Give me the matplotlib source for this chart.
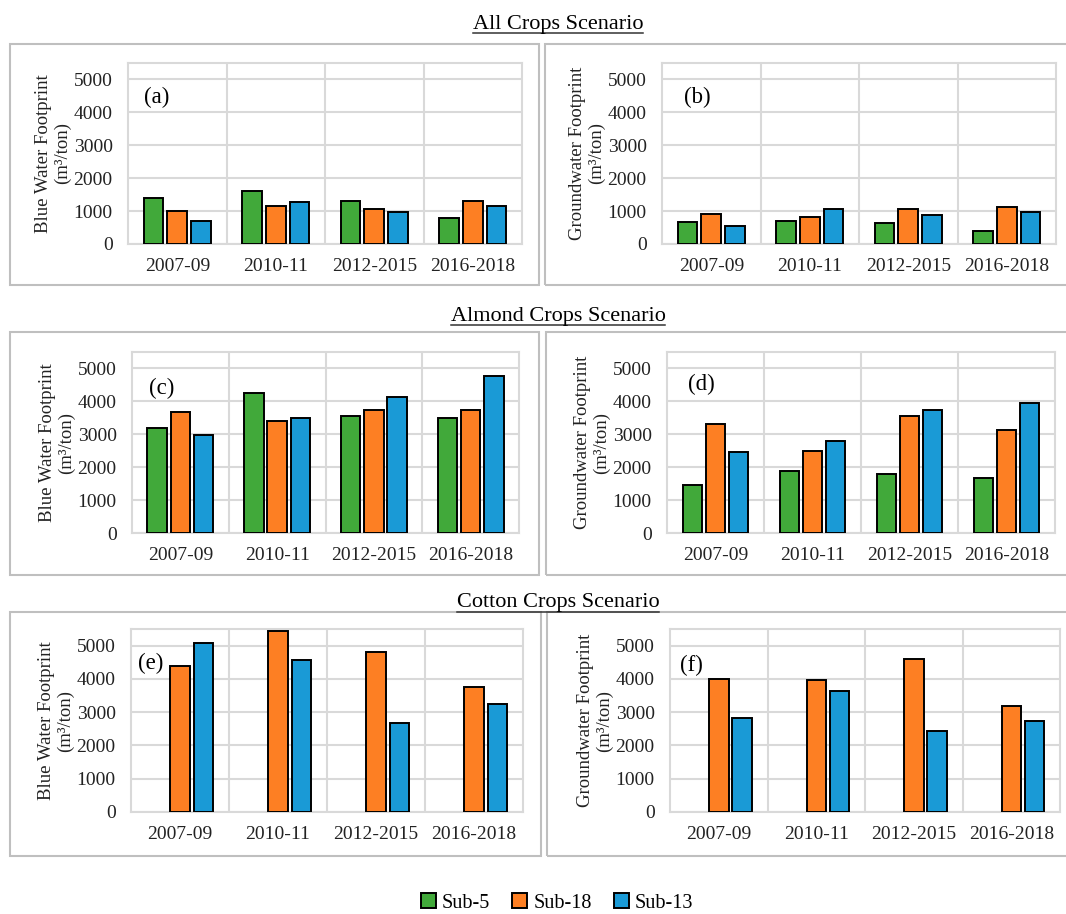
import numpy as np
import matplotlib
matplotlib.use("Agg")
import matplotlib.pyplot as plt
from matplotlib.patches import Rectangle, Patch
from matplotlib.lines import Line2D

plt.rcParams["font.family"] = ["Liberation Serif", "DejaVu Serif"]

periods = ["2007-09", "2010-11", "2012-2015", "2016-2018"]
subbasins = ["Sub-5", "Sub-18", "Sub-13"]
colors = ["#41a93a", "#fd7f23", "#1a9ad6"]

# m3/ton per period, one list per sub-basin
all_blue_sub5 = [1400, 1600, 1300, 800]
all_blue_sub18 = [1000, 1150, 1070, 1320]
all_blue_sub13 = [690, 1290, 960, 1150]
all_gw_sub5 = [660, 710, 640, 390]
all_gw_sub18 = [900, 830, 1050, 1120]
all_gw_sub13 = [560, 1050, 880, 960]

almond_blue_sub5 = [3200, 4260, 3560, 3490]
almond_blue_sub18 = [3680, 3400, 3740, 3740]
almond_blue_sub13 = [2980, 3490, 4120, 4760]
almond_gw_sub5 = [1460, 1880, 1790, 1680]
almond_gw_sub18 = [3320, 2490, 3570, 3140]
almond_gw_sub13 = [2460, 2810, 3750, 3950]

# no cotton in Sub-5
cotton_blue_sub5 = [np.nan] * 4
cotton_blue_sub18 = [4380, 5430, 4810, 3770]
cotton_blue_sub13 = [5080, 4560, 2680, 3250]
cotton_gw_sub5 = [np.nan] * 4
cotton_gw_sub18 = [4000, 3980, 4600, 3200]
cotton_gw_sub13 = [2830, 3650, 2430, 2740]

W, H = 1066, 914
fig = plt.figure(figsize=(W / 100, H / 100), dpi=100)
GRID = "#d9d9d9"
FRAME = "#bfbfbf"


def fx(px):
    return px / W


def fy(py):
    return 1 - py / H


def frame(x0, y0, x1, y1):
    fig.patches.append(Rectangle((fx(x0), fy(y1)), fx(x1 - x0), (y1 - y0) / H,
                                 transform=fig.transFigure, fill=False,
                                 edgecolor=FRAME, linewidth=1.5))


def panel(box, data, ylabel, letter, letter_pos):
    x0, y0, x1, y1 = box
    ax = fig.add_axes([fx(x0), fy(y1), fx(x1 - x0), (y1 - y0) / H])
    x = np.arange(len(periods))
    for i, (vals, c) in enumerate(zip(data, colors)):
        vals = np.asarray(vals, dtype=float)
        ok = np.isfinite(vals)
        ax.bar(x[ok] + (i - 1) * 0.24, vals[ok], width=0.2, color=c,
               edgecolor="black", linewidth=1.4, zorder=3)
    ax.set_xlim(-0.5, 3.5)
    ax.set_ylim(0, 5500)
    ax.set_yticks(range(0, 5001, 1000))
    ax.set_xticks(x)
    ax.set_xticklabels(periods)
    ax.set_xticks([0.5, 1.5, 2.5], minor=True)
    ax.set_axisbelow(True)
    ax.grid(axis="y", which="major", color=GRID, linewidth=1.5)
    ax.grid(axis="x", which="minor", color=GRID, linewidth=1.5)
    for s in ax.spines.values():
        s.set_color(GRID)
        s.set_linewidth(1.5)
    ax.tick_params(axis="both", which="both", length=0, labelsize=14, colors="#222222")
    ax.tick_params(axis="x", pad=10)
    ax.tick_params(axis="y", pad=11)
    ax.text(letter_pos[0], letter_pos[1], letter, transform=ax.transAxes,
            fontsize=16.5, ha="center", va="center")
    fig.text(fx(x0 - 75), fy((y0 + y1) / 2), ylabel, rotation=90, ha="center",
             va="center", fontsize=13.5, linespacing=1.2, color="#222222")
    return ax


blue_lbl = "Blue Water Footprint\n(m³/ton)"
gw_lbl = "Groundwater Footprint\n(m³/ton)"

# row frames
frame(10, 44, 539, 285)
frame(545, 44, 1070, 285)
frame(10, 332, 539, 575)
frame(546, 332, 1070, 575)
frame(10, 612, 541, 856)
frame(547, 612, 1070, 856)

panel((128, 63, 522, 244), [all_blue_sub5, all_blue_sub18, all_blue_sub13],
      blue_lbl, "(a)", (0.074, 0.81))
panel((662, 63, 1056, 244), [all_gw_sub5, all_gw_sub18, all_gw_sub13],
      gw_lbl, "(b)", (0.09, 0.81))
panel((132, 352, 519, 533), [almond_blue_sub5, almond_blue_sub18, almond_blue_sub13],
      blue_lbl, "(c)", (0.077, 0.80))
panel((667, 352, 1055, 533), [almond_gw_sub5, almond_gw_sub18, almond_gw_sub13],
      gw_lbl, "(d)", (0.088, 0.82))
panel((131, 629, 523, 812), [cotton_blue_sub5, cotton_blue_sub18, cotton_blue_sub13],
      blue_lbl, "(e)", (0.05, 0.81))
panel((670, 629, 1060, 812), [cotton_gw_sub5, cotton_gw_sub18, cotton_gw_sub13],
      gw_lbl, "(f)", (0.054, 0.80))

# underlined section headings
titles = [("All Crops Scenario", 24), ("Almond Crops Scenario", 316),
          ("Cotton Crops Scenario", 603)]
heads = [fig.text(fx(558), fy(py), t, ha="center", va="center", fontsize=16)
         for t, py in titles]
fig.canvas.draw()
r = fig.canvas.get_renderer()
for t in heads:
    bb = t.get_window_extent(r).transformed(fig.transFigure.inverted())
    fig.lines.append(Line2D([bb.x0, bb.x1], [bb.y0 + 0.001, bb.y0 + 0.001],
                            transform=fig.transFigure, color="#333333", linewidth=1.1))

handles = [Patch(facecolor=c, edgecolor="black", linewidth=1.4) for c in colors]
fig.legend(handles, subbasins, loc="center", bbox_to_anchor=(fx(557), fy(903)),
           ncol=3, frameon=False, fontsize=14.5, handlelength=0.75, handleheight=0.75,
           handletextpad=0.3, columnspacing=1.1)

fig.savefig("out.png", dpi=100)
